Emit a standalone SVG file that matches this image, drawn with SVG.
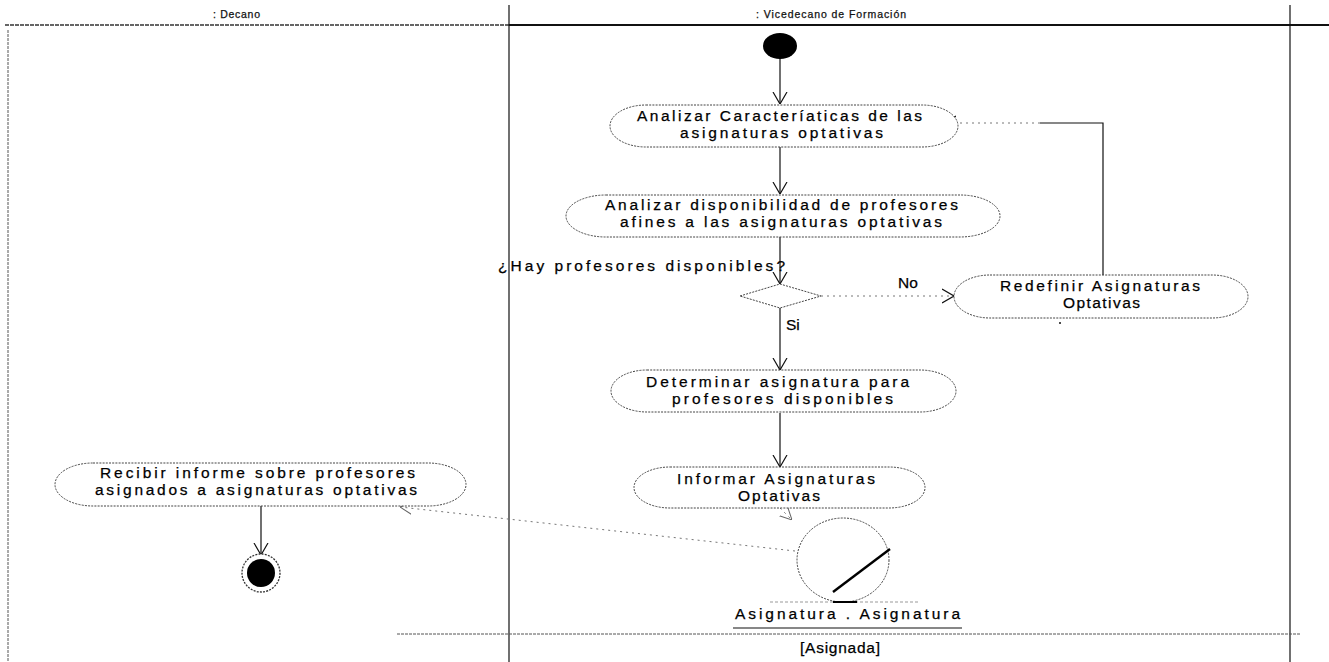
<svg xmlns="http://www.w3.org/2000/svg" width="1329" height="662" viewBox="0 0 1329 662">
  <style>
    .bg { fill: #ffffff; }
    .lane { stroke: #111; stroke-width: 1.2; fill: none; }
    .lane-soft { stroke: #555; stroke-width: 1; stroke-dasharray: 3 1; fill: none; }
    .hdr { font-family: "Liberation Sans", Arial, sans-serif; font-size: 10.5px; fill: #111; stroke: #111; stroke-width: 0.25; }
    .pill { fill: #ffffff; stroke: #444; stroke-width: 1; stroke-dasharray: 2 1.2; }
    .lbl { font-family: "Liberation Sans", Arial, sans-serif; font-size: 15.5px; fill: #000; stroke: #000; stroke-width: 0.25; }
    .flow { stroke: #111; stroke-width: 1.2; fill: none; }
    .objflow { stroke: #777; stroke-width: 1; stroke-dasharray: 2 4; fill: none; }
  </style>
  <defs>
    <marker id="open" viewBox="0 0 12 16" refX="12" refY="8" markerWidth="12" markerHeight="16" markerUnits="userSpaceOnUse" orient="auto">
      <path d="M0,1 L12,8 L0,15" fill="none" stroke="#111" stroke-width="1.2"/>
    </marker>
    <marker id="open-soft" viewBox="0 0 12 14" refX="12" refY="7" markerWidth="12" markerHeight="14" markerUnits="userSpaceOnUse" orient="auto">
      <path d="M0,1 L12,7 L0,13" fill="none" stroke="#666" stroke-width="1"/>
    </marker>
  </defs>

  <rect class="bg" x="0" y="0" width="1329" height="662"/>

  <!-- swimlanes -->
  <g id="swimlanes">
    <line x1="5" y1="25" x2="509" y2="25" stroke="#333" stroke-width="1.4" stroke-dasharray="4 1"/>
    <line x1="509" y1="25" x2="1329" y2="25" stroke="#111" stroke-width="2.2"/>
    <line class="lane" x1="509" y1="5" x2="509" y2="662"/>
    <line class="lane" x1="1290" y1="5" x2="1290" y2="662"/>
    <line class="lane-soft" x1="8" y1="30" x2="8" y2="662"/>
    <line class="lane-soft" x1="397" y1="634" x2="1300" y2="634"/>
    <text class="hdr" x="213" y="18" textLength="47" lengthAdjust="spacing">: Decano</text>
    <text class="hdr" x="756" y="18" textLength="150" lengthAdjust="spacing">: Vicedecano  de Formación</text>
  </g>

  <!-- connectors -->
  <g id="connectors">
    <line class="flow" x1="780" y1="58" x2="780" y2="104" marker-end="url(#open)"/>
    <line class="flow" x1="780" y1="147" x2="780" y2="194" marker-end="url(#open)"/>
    <line class="flow" x1="780" y1="237" x2="780" y2="284" marker-end="url(#open)"/>
    <line class="objflow" x1="821" y1="296" x2="954" y2="296" stroke="#555" stroke-dasharray="3 1" marker-end="url(#open)"/>
    <polyline class="flow" points="1103,275 1103,123 1040,123" stroke-width="1"/>
    <line class="objflow" x1="1040" y1="123" x2="944" y2="123" stroke="#555" stroke-dasharray="3 1" marker-end="url(#open)"/>
    <line class="flow" x1="780" y1="308" x2="780" y2="370" marker-end="url(#open)"/>
    <line class="flow" x1="780" y1="413" x2="780" y2="467" marker-end="url(#open)"/>
    <line class="objflow" x1="780" y1="508" x2="792" y2="520" marker-end="url(#open-soft)"/>
    <line class="objflow" x1="795" y1="551" x2="400" y2="507" marker-end="url(#open-soft)"/>
    <line class="flow" x1="261" y1="506" x2="261" y2="555" marker-end="url(#open)"/>
    <text class="lbl" x="898" y="288">No</text>
    <text class="lbl" x="786" y="330">Si</text>
  </g>

  <!-- initial state -->
  <g id="start">
    <ellipse cx="780" cy="46" rx="17" ry="13" fill="#000"/>
  </g>

  <g id="analizar-caracteristicas">
    <rect class="pill" x="610" y="105" width="348" height="42" rx="36" ry="21"/>
    <text class="lbl" x="637" y="121" textLength="285" lengthAdjust="spacing">Analizar Caracteríaticas de las</text>
    <text class="lbl" x="680" y="138" textLength="203" lengthAdjust="spacing">asignaturas optativas</text>
  </g>

  <g id="analizar-disponibilidad">
    <rect class="pill" x="566" y="195" width="434" height="42" rx="40" ry="21"/>
    <text class="lbl" x="605" y="210" textLength="353" lengthAdjust="spacing">Analizar disponibilidad de profesores</text>
    <text class="lbl" x="620" y="227" textLength="322" lengthAdjust="spacing">afines  a las asignaturas optativas</text>
  </g>

  <g id="decision">
    <polygon points="740,296 780,284 821,296 780,308" fill="#fff" stroke="#444" stroke-width="1" stroke-dasharray="2 1.2"/>
    <text class="lbl" x="498" y="271" textLength="287" lengthAdjust="spacing">¿Hay profesores disponibles?</text>
  </g>

  <g id="redefinir">
    <rect class="pill" x="954" y="275" width="294" height="43" rx="36" ry="21.5"/>
    <text class="lbl" x="1000" y="291" textLength="200" lengthAdjust="spacing">Redefinir Asignaturas</text>
    <text class="lbl" x="1063" y="308" textLength="77" lengthAdjust="spacing">Optativas</text>
    <circle cx="1060" cy="323" r="1" fill="#111"/>
  </g>

  <g id="determinar">
    <rect class="pill" x="611" y="370" width="345" height="42" rx="36" ry="21"/>
    <text class="lbl" x="646" y="387" textLength="263" lengthAdjust="spacing">Determinar asignatura para</text>
    <text class="lbl" x="672" y="404" textLength="221" lengthAdjust="spacing">profesores disponibles</text>
  </g>

  <g id="informar">
    <rect class="pill" x="634" y="467" width="291" height="41" rx="36" ry="20.5"/>
    <text class="lbl" x="677" y="484" textLength="198" lengthAdjust="spacing">Informar Asignaturas</text>
    <text class="lbl" x="738" y="501" textLength="82" lengthAdjust="spacing">Optativas</text>
  </g>

  <!-- object node -->
  <g id="objeto-asignatura">
    <line x1="770" y1="602" x2="920" y2="602" stroke="#999" stroke-width="1" stroke-dasharray="3 2"/>
    <ellipse cx="843" cy="560" rx="46" ry="42" fill="#fff" stroke="#444" stroke-width="1" stroke-dasharray="2 1.2"/>
    <line x1="833" y1="592" x2="890" y2="549" stroke="#000" stroke-width="2.4"/>
    <line x1="833" y1="602" x2="857" y2="602" stroke="#000" stroke-width="2"/>
    <text class="lbl" x="735" y="619" textLength="225" lengthAdjust="spacing">Asignatura . Asignatura</text>
    <line x1="733" y1="628" x2="962" y2="628" stroke="#111" stroke-width="1.2"/>
    <text class="lbl" x="800" y="653" textLength="80" lengthAdjust="spacing">[Asignada]</text>
  </g>

  <g id="recibir">
    <rect class="pill" x="55" y="463" width="411" height="43" rx="38" ry="21.5"/>
    <text class="lbl" x="100" y="478" textLength="315" lengthAdjust="spacing">Recibir informe sobre profesores</text>
    <text class="lbl" x="95" y="495" textLength="322" lengthAdjust="spacing">asignados a asignaturas optativas</text>
  </g>

  <!-- final state -->
  <g id="end">
    <circle cx="261" cy="573" r="19" fill="#fff" stroke="#333" stroke-width="1.3" stroke-dasharray="2 1.2"/>
    <circle cx="261" cy="573" r="14" fill="#000"/>
  </g>
</svg>
